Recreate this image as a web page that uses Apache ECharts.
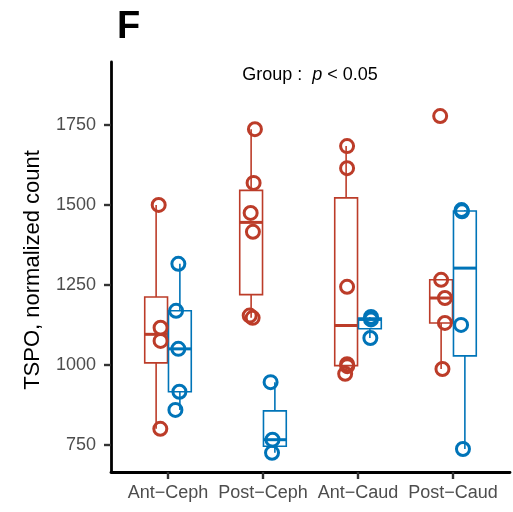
<!DOCTYPE html>
<html>
<head>
<meta charset="utf-8">
<script src="https://cdn.jsdelivr.net/npm/echarts@6/dist/echarts.min.js"></script>
<style>
html, body { margin: 0; padding: 0; background: #fff; }
#chart { width: 513px; height: 512px; }
</style>
</head>
<body>
<div id="chart"></div>
<script>
// categories on the x axis
let categories = ['Ant\u2212Ceph', 'Post\u2212Ceph', 'Ant\u2212Caud', 'Post\u2212Caud'];
let yTicks = [750, 1000, 1250, 1500, 1750];

// normalized counts per sample, one list per category
let redValues = [
    [1500, 1116, 1075, 800],
    [1737, 1569, 1475, 1416, 1154, 1147],
    [1684, 1615, 1244, 1002, 996, 972],
    [1778, 1266, 1209, 1131, 987]
];
let blueValues = [
    [1316, 1169, 1050, 916, 859],
    [946, 766, 725],
    [1150, 1142, 1084],
    [1484, 1480, 1125, 737]
];

// horizontal jitter of each point (category units)
let redJitter = [
    [0.027, 0.047, 0.047, 0.044],
    [0.04, 0.026, -0.005, 0.019, -0.015, 0.016],
    [0.01, 0.01, 0.01, 0.01, 0.012, -0.01],
    [-0.01, 0.0, 0.04, 0.04, 0.014]
];
let blueJitter = [
    [-0.016, -0.04, -0.016, -0.005, -0.047],
    [-0.045, -0.025, -0.03],
    [0.012, 0.012, 0.005],
    [-0.035, -0.03, -0.04, -0.02]
];

let red = '#BC3C29';
let blue = '#0074B8';
let dodge = 0.125;
let boxWidth = 0.24;

function quantile(sorted, p) {
    let h = (sorted.length - 1) * p;
    let lo = Math.floor(h);
    let hi = Math.ceil(h);
    return sorted[lo] + (h - lo) * (sorted[hi] - sorted[lo]);
}

function boxStats(groups, offset) {
    let out = [];
    groups.forEach(function (vals, i) {
        let s = vals.slice().sort(function (a, b) { return a - b; });
        let q1 = quantile(s, 0.25);
        let med = quantile(s, 0.5);
        let q3 = quantile(s, 0.75);
        let iqr = q3 - q1;
        let inside = s.filter(function (v) { return v >= q1 - 1.5 * iqr && v <= q3 + 1.5 * iqr; });
        out.push([i + 1 + offset, inside[0], q1, med, q3, inside[inside.length - 1]]);
    });
    return out;
}

function points(groups, jitter, offset) {
    let out = [];
    groups.forEach(function (vals, i) {
        vals.forEach(function (v, j) {
            out.push([i + 1 + offset + jitter[i][j], v]);
        });
    });
    return out;
}

function renderBox(color) {
    return function (params, api) {
        let x = api.value(0);
        let half = api.size([boxWidth / 2, 0])[0];
        let lo = api.coord([x, api.value(1)]);
        let q1 = api.coord([x, api.value(2)]);
        let med = api.coord([x, api.value(3)]);
        let q3 = api.coord([x, api.value(4)]);
        let hi = api.coord([x, api.value(5)]);
        let thin = { stroke: color, lineWidth: 1.6, fill: 'none' };
        return {
            type: 'group',
            children: [
                { type: 'line', shape: { x1: lo[0], y1: lo[1], x2: q1[0], y2: q1[1] }, style: thin },
                { type: 'line', shape: { x1: q3[0], y1: q3[1], x2: hi[0], y2: hi[1] }, style: thin },
                { type: 'rect', shape: { x: q3[0] - half, y: q3[1], width: half * 2, height: q1[1] - q3[1] }, style: thin },
                { type: 'line', shape: { x1: med[0] - half, y1: med[1], x2: med[0] + half, y2: med[1] }, style: { stroke: color, lineWidth: 3 } }
            ]
        };
    };
}

let chart = echarts.init(document.getElementById('chart'), null, { renderer: 'canvas' });

let font = 'Liberation Sans, Arial, sans-serif';

let option = {
    animation: false,
    backgroundColor: '#ffffff',
    textStyle: { fontFamily: font },
    grid: { left: 111, right: 3, top: 62, bottom: 40, containLabel: false },
    graphic: [
        {
            type: 'text', left: 117, top: 9,
            style: { text: 'F', fontSize: 38, fontWeight: 'bold', fontFamily: font, fill: '#000' }
        },
        {
            type: 'text', x: 310, y: 75,
            style: {
                text: '{a|Group :  }{i|p}{a| < 0.05}',
                align: 'center', verticalAlign: 'middle', fontFamily: font,
                rich: {
                    a: { fontSize: 18, fontFamily: font, fill: '#000' },
                    i: { fontSize: 18, fontFamily: font, fontStyle: 'italic', fill: '#000' }
                }
            }
        },
        {
            type: 'text', x: 33, y: 270, rotation: Math.PI / 2,
            style: { text: 'TSPO, normalized count', align: 'center', verticalAlign: 'middle', fontSize: 22, fontFamily: font, fill: '#000' }
        }
    ],
    xAxis: {
        type: 'value',
        min: 0.4,
        max: 4.6,
        splitLine: { show: false },
        axisLine: { show: true, onZero: false, lineStyle: { color: '#000', width: 2.8 } },
        axisTick: { show: true, length: 7, customValues: [1, 2, 3, 4], lineStyle: { color: '#333', width: 2.4 } },
        axisLabel: {
            customValues: [1, 2, 3, 4],
            fontSize: 18, color: '#4D4D4D', margin: 12, fontFamily: font,
            formatter: function (v) { return categories[Math.round(v) - 1]; }
        }
    },
    yAxis: {
        type: 'value',
        min: 665,
        max: 1947,
        splitLine: { show: false },
        axisLine: { show: true, onZero: false, lineStyle: { color: '#000', width: 2.8 } },
        axisTick: { show: true, length: 7, customValues: yTicks, lineStyle: { color: '#333', width: 2.4 } },
        axisLabel: {
            customValues: yTicks, fontSize: 18, color: '#4D4D4D', margin: 15, fontFamily: font,
            formatter: function (v) { return String(v); }
        }
    },
    series: [
        {
            name: 'box-red', type: 'custom', renderItem: renderBox(red),
            encode: { x: 0, y: [1, 2, 3, 4, 5] }, data: boxStats(redValues, -dodge), z: 2
        },
        {
            name: 'box-blue', type: 'custom', renderItem: renderBox(blue),
            encode: { x: 0, y: [1, 2, 3, 4, 5] }, data: boxStats(blueValues, dodge), z: 2
        },
        {
            name: 'pts-red', type: 'scatter', symbol: 'circle', symbolSize: 13,
            itemStyle: { color: 'rgba(0,0,0,0)', borderColor: red, borderWidth: 3, opacity: 1 },
            data: points(redValues, redJitter, -dodge), z: 3
        },
        {
            name: 'pts-blue', type: 'scatter', symbol: 'circle', symbolSize: 13,
            itemStyle: { color: 'rgba(0,0,0,0)', borderColor: blue, borderWidth: 3, opacity: 1 },
            data: points(blueValues, blueJitter, dodge), z: 3
        }
    ]
};

chart.setOption(option);
</script>
</body>
</html>
